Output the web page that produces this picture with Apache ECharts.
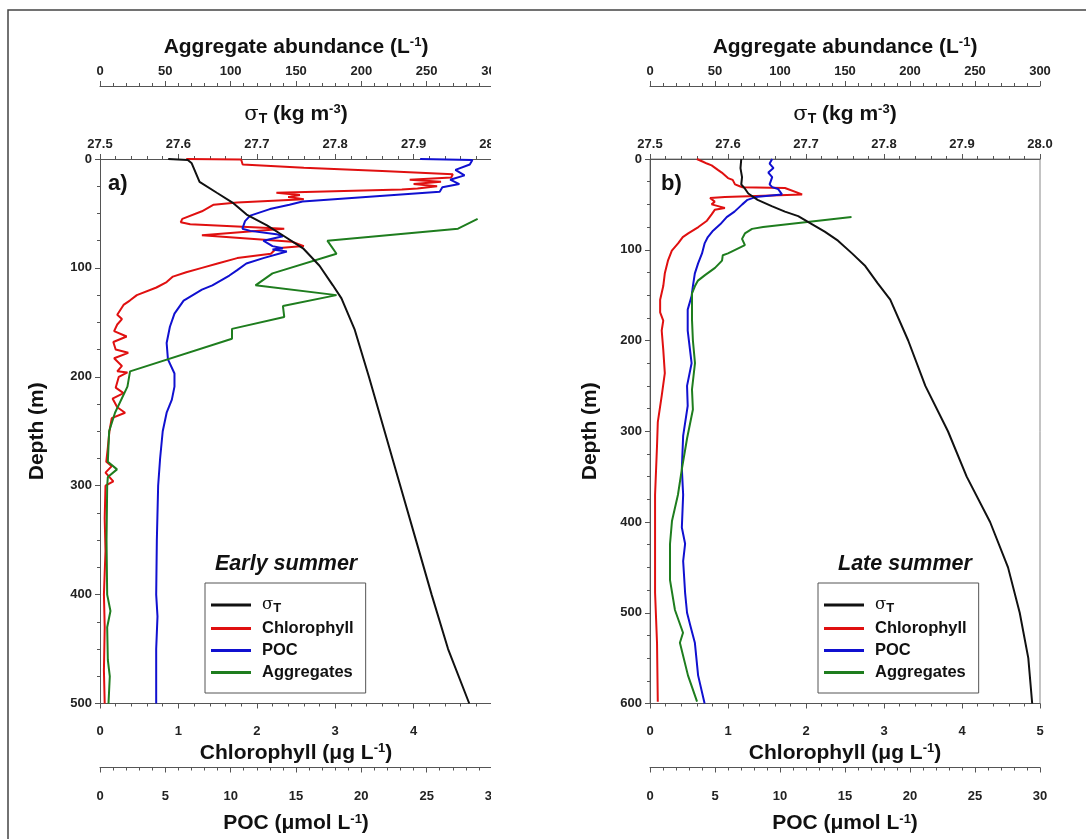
<!DOCTYPE html>
<html>
<head>
<meta charset="utf-8">
<script src="https://cdn.jsdelivr.net/npm/echarts@6/dist/echarts.min.js"></script>
<style>
  html, body { margin: 0; padding: 0; background: #fff; }
  #main { width: 1086px; height: 839px; }
</style>
</head>
<body>
<div id="main"></div>
<script>
// profiles as [value, depth (m)]
// early summer (panel a)
var sigmaEarly = [[27.587,0],[27.612,1],[27.617,4],[27.627,21],[27.649,31],[27.669,40],[27.687,51],[27.713,61],[27.733,70],[27.759,82],[27.780,98],[27.797,116],[27.808,128],[27.825,157],[27.843,200],[27.863,250],[27.883,300],[27.903,350],[27.923,400],[27.944,450],[27.971,500]];
var chlEarly = [[1.1,0],[1.8,0.5],[1.82,5],[2.6,8],[3.6,11],[4.5,14],[4.48,17],[3.95,19],[4.35,21],[4.0,23],[4.3,25],[4.05,27],[3.85,28],[2.25,31],[2.55,33],[2.4,35],[2.6,37],[1.75,40],[1.45,42],[1.3,48],[1.05,55],[1.03,58],[1.15,60],[2.35,64],[1.3,70],[2.45,76],[2.6,80],[2.25,82],[2.18,87],[1.75,91],[1.5,96],[1.3,100],[1.1,104],[0.93,108],[0.85,113],[0.72,118],[0.47,125],[0.38,130],[0.3,134],[0.22,143],[0.28,147],[0.22,152],[0.18,158],[0.34,163],[0.17,168],[0.2,175],[0.36,178],[0.18,183],[0.28,190],[0.22,195],[0.35,196],[0.24,200],[0.2,210],[0.3,215],[0.16,220],[0.22,228],[0.32,233],[0.15,238],[0.12,250],[0.1,265],[0.08,278],[0.15,282],[0.07,288],[0.17,296],[0.07,300],[0.06,330],[0.07,360],[0.05,400],[0.06,430],[0.05,470],[0.06,500]];
var pocEarly = [[24.5,0],[28.5,1],[28.3,5],[27.2,10],[27.9,15],[26.8,19],[27.5,23],[26.2,26],[26,30],[15.5,39],[14.5,42],[13,46],[11.5,52],[11.1,57],[10.9,64],[11.5,66],[13.5,69],[14,71],[12.5,75],[13.2,80],[14,82],[13.2,83],[14.3,85],[12.5,91],[11.2,96],[10.5,102],[9.9,107],[8.6,116],[7.8,120],[6.4,130],[5.7,142],[5.35,154],[5.1,169],[5.2,184],[5.7,197],[5.7,209],[5.5,221],[5.1,233],[4.8,250],[4.6,275],[4.45,300],[4.35,350],[4.3,400],[4.4,420],[4.3,450],[4.3,500]];
var aggEarly = [[289,55],[274,64],[174,75],[181,87],[132,105],[119,116],[181,125],[140,135],[141,145],[101,156],[101,165],[23,195],[21,209],[11.5,233],[7,250],[6,278],[13,285],[6,292],[5.5,300],[5,350],[5.5,400],[8,415],[5.5,430],[6,460],[7.5,475],[6.5,500]];

// late summer (panel b)
var sigmaLate = [[27.617,0],[27.616,10],[27.618,20],[27.617,28],[27.622,33],[27.626,38],[27.638,45],[27.656,52],[27.673,58],[27.69,63],[27.708,72],[27.724,80],[27.741,90],[27.759,104],[27.776,118],[27.792,137],[27.808,155],[27.831,200],[27.853,250],[27.882,300],[27.906,350],[27.936,400],[27.959,450],[27.974,500],[27.985,550],[27.99,600]];
var chlLate = [[0.6,0],[0.68,3],[0.73,5],[0.79,7],[0.87,12],[0.92,15],[0.96,18],[1.0,21],[1.06,23],[1.09,28],[1.15,30],[1.18,31],[1.73,32],[1.95,39],[1.26,41],[0.96,42],[0.77,43],[0.83,47],[0.79,50],[0.92,53],[0.96,54],[0.83,56],[0.79,61],[0.73,68],[0.62,75],[0.49,82],[0.42,86],[0.36,93],[0.28,101],[0.23,112],[0.19,126],[0.17,140],[0.13,155],[0.13,169],[0.17,178],[0.15,189],[0.17,210],[0.19,236],[0.15,261],[0.10,290],[0.09,316],[0.065,370],[0.065,424],[0.065,478],[0.09,533],[0.1,598]];
var pocLate = [[9.4,0],[9.2,5],[9.5,10],[9.1,15],[9.4,20],[9.2,28],[9.4,31],[9.85,33],[10.15,39],[8.1,42],[7.5,45],[7.1,50],[6.5,58],[5.9,64],[5.4,72],[4.85,79],[4.45,86],[4.2,93],[4.0,104],[3.7,115],[3.45,126],[3.3,140],[3.2,151],[2.9,166],[2.9,177],[2.9,189],[3.2,225],[2.85,250],[2.9,272],[2.55,305],[2.45,341],[2.55,370],[2.45,406],[2.7,424],[2.55,443],[2.7,478],[2.85,500],[3.1,514],[3.45,533],[3.7,569],[4.2,600]];
var aggLate = [[155,64],[87,75],[78.5,77],[73,82],[70.8,88],[73,95],[60,104],[56,106],[55.4,112],[50,120],[42.3,128],[36.9,134],[34.6,140],[32.3,148],[32.3,155],[32.3,177],[33,200],[34.6,225],[32.3,254],[33,276],[28.5,308],[24.6,341],[21.5,370],[16.9,399],[15.4,424],[15.4,464],[19.2,497],[25.4,522],[23,533],[29.2,569],[36.2,598]];

var seriesNames = ['σT', 'Chlorophyll', 'POC', 'Aggregates'];
var seriesColors = ['#111111', '#e01010', '#1010d0', '#1e7d1e'];

var FONT = "'Liberation Sans', Arial, sans-serif";
var AXIS_COLOR = '#555';

var titleRich = {
    t: { fontFamily: FONT, fontSize: 21, fontWeight: 'bold', color: '#111' },
    g: { fontFamily: "'DejaVu Serif', serif", fontSize: 21, color: '#111' },
    sub: { fontFamily: FONT, fontSize: 14, fontWeight: 'bold', color: '#111', verticalAlign: 'bottom', padding: [9, 0, 0, 0] },
    sup: { fontFamily: FONT, fontSize: 13, fontWeight: 'bold', color: '#111', verticalAlign: 'top', padding: [0, 0, 9, 0] }
};

function xAx(grid, pos, offset, min, max, interval, name, nameGap, labelMargin, fmt, hideMax) {
    return {
        type: 'value', gridIndex: grid, position: pos, offset: offset,
        min: min, max: max, interval: interval,
        name: name, nameLocation: 'middle', nameGap: nameGap,
        nameTextStyle: { rich: titleRich },
        axisLine: { show: true, onZero: false, lineStyle: { color: AXIS_COLOR, width: 1 } },
        axisTick: { show: true, length: 5, lineStyle: { color: AXIS_COLOR } },
        minorTick: { show: true, splitNumber: 5, length: 3, lineStyle: { color: AXIS_COLOR } },
        axisLabel: { margin: labelMargin, fontFamily: FONT, fontSize: 13, fontWeight: 'bold', color: '#222',
            formatter: fmt, showMaxLabel: !hideMax, showMinLabel: true },
        splitLine: { show: false }
    };
}

function yAx(grid, max, nameGap) {
    return {
        type: 'value', gridIndex: grid, inverse: true, min: 0, max: max, interval: 100,
        name: 'Depth (m)', nameLocation: 'middle', nameGap: nameGap, nameRotate: 90,
        nameTextStyle: { fontFamily: FONT, fontSize: 21, fontWeight: 'bold', color: '#111' },
        axisLine: { show: true, onZero: false, lineStyle: { color: AXIS_COLOR } },
        axisTick: { show: true, length: 5, lineStyle: { color: AXIS_COLOR } },
        minorTick: { show: true, splitNumber: 4, length: 3, lineStyle: { color: AXIS_COLOR } },
        axisLabel: { margin: 8, fontFamily: FONT, fontSize: 13, fontWeight: 'bold', color: '#222' },
        splitLine: { show: false }
    };
}

var sigFmt = function (v) { return v.toFixed(1); };
var plainFmt = function (v) { return String(v); };

var xAxes = [];
[0, 1].forEach(function (g) {
    xAxes.push(xAx(g, 'top', 0, 27.5, 28.0, 0.1, '{g|σ}{sub|T}{t| (kg m}{sup|-3}{t|)}', 33, 8, sigFmt, false));
    xAxes.push(xAx(g, 'top', 73, 0, 300, 50, '{t|Aggregate abundance (L}{sup|-1}{t|)}', 28, 8, plainFmt, false));
    xAxes.push(xAx(g, 'bottom', 0, 0, 5, 1, '{t|Chlorophyll (μg L}{sup|-1}{t|)}', 37, 21, plainFmt, g === 0));
    xAxes.push(xAx(g, 'bottom', 64, 0, 30, 5, '{t|POC (μmol L}{sup|-1}{t|)}', 45, 22, plainFmt, false));
});

var profiles = [
    [sigmaEarly, chlEarly, pocEarly, aggEarly],
    [sigmaLate, chlLate, pocLate, aggLate]
];
// axis index inside each grid: sigma 0, aggregates 1, chlorophyll 2, POC 3
var axisSlot = [0, 2, 3, 1];

var series = [];
profiles.forEach(function (set, g) {
    set.forEach(function (data, k) {
        series.push({
            name: seriesNames[k], type: 'line',
            xAxisIndex: g * 4 + axisSlot[k], yAxisIndex: g,
            data: data, showSymbol: false, symbol: 'none',
            lineStyle: { color: seriesColors[k], width: 2 },
            itemStyle: { color: seriesColors[k] },
            z: k === 0 ? 5 : 3
        });
    });
});

function legendCfg(left) {
    return {
        left: left, top: 583, orient: 'vertical',
        icon: 'rect', itemWidth: 40, itemHeight: 3, itemGap: 5,
        borderColor: AXIS_COLOR, borderWidth: 1, padding: [12, 12, 12, 6],
        data: seriesNames,
        formatter: function (n) { return n === 'σT' ? '{g|σ}{s|T}' : '{t|' + n + '}'; },
        textStyle: {
            rich: {
                t: { fontFamily: FONT, fontSize: 16.5, fontWeight: 'bold', color: '#111', lineHeight: 20, padding: [0, 0, 0, 6] },
                g: { fontFamily: "'DejaVu Serif', serif", fontSize: 16.5, color: '#111', lineHeight: 20, padding: [0, 0, 0, 6] },
                s: { fontFamily: FONT, fontSize: 13, fontWeight: 'bold', color: '#111', verticalAlign: 'bottom', lineHeight: 20, padding: [7, 0, 0, 0] }
            }
        }
    };
}

var chart = echarts.init(document.getElementById('main'), null, { renderer: 'canvas' });
chart.setOption({
    animation: false,
    backgroundColor: '#fff',
    grid: [
        { left: 100, top: 159, width: 392, height: 553, show: false },
        { left: 650, top: 159, width: 390, height: 553, show: true, borderColor: '#888', borderWidth: 1, backgroundColor: 'transparent' }
    ],
    xAxis: xAxes,
    yAxis: [yAx(0, 500, 52), yAx(1, 600, 49)],
    legend: [legendCfg(205), legendCfg(818)],
    series: series,
    graphic: [
        // right edge of panel a is cut off in the original figure
        { type: 'rect', left: 491, top: 20, shape: { width: 40, height: 810 }, style: { fill: '#fff' }, z: 100 },
        { type: 'rect', shape: { x: 8, y: 10, width: 1100, height: 860 }, style: { fill: 'none', stroke: '#444', lineWidth: 1.5 }, z: 101 },
        { type: 'text', left: 108, top: 173, style: { text: 'a)', fontFamily: FONT, fontSize: 22, fontWeight: 'bold', fill: '#111' }, z: 50 },
        { type: 'text', left: 661, top: 173, style: { text: 'b)', fontFamily: FONT, fontSize: 22, fontWeight: 'bold', fill: '#111' }, z: 50 },
        { type: 'text', left: 215, top: 553, style: { text: 'Early summer', fontFamily: FONT, fontSize: 21.5, fontWeight: 'bold', fontStyle: 'italic', fill: '#111' }, z: 50 },
        { type: 'text', left: 838, top: 553, style: { text: 'Late summer', fontFamily: FONT, fontSize: 21.5, fontWeight: 'bold', fontStyle: 'italic', fill: '#111' }, z: 50 }
    ]
});
</script>
</body>
</html>
